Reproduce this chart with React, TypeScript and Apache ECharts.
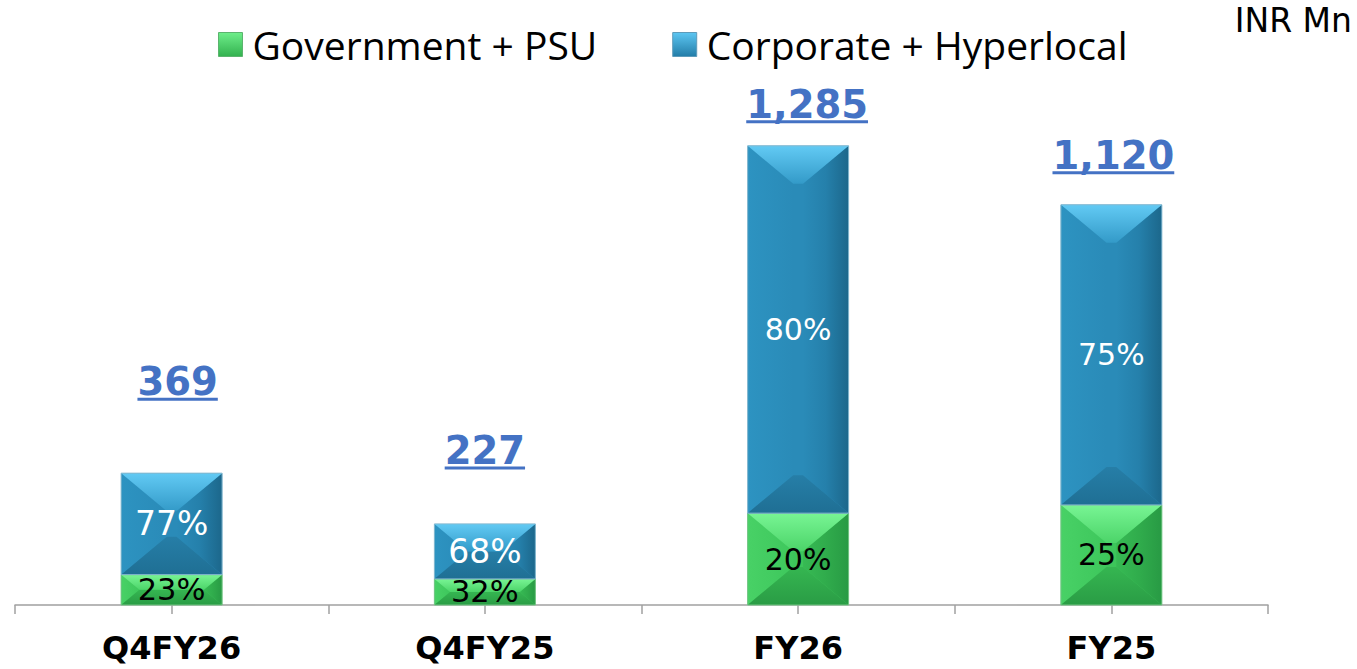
import React, { useEffect, useRef } from "react";
import * as echarts from "echarts";

// ---- data ----
const categories = ["Q4FY26", "Q4FY25", "FY26", "FY25"];
const totals = [369, 227, 1285, 1120];
const govValues = [85, 73, 257, 280];
const corpValues = [284, 154, 1028, 840];
const govShares = ["23%", "32%", "20%", "25%"];
const corpShares = ["77%", "68%", "80%", "75%"];
const seriesNames = ["Government + PSU", "Corporate + Hyperlocal"];
const unitLabel = "INR Mn";

// ---- styles ----
const totalLabelLift = [78, 60, 28, 36]; // px between bar top and total label baseline
const totalLabelShift = [6, 0, 9, 2]; // px horizontal nudge of total labels
const govFontSizes = [30.5, 30.5, 30, 30];
const corpFontSizes = [33, 33, 30, 30];
const barRatio = 0.3224;
const TOTAL_FONT = "bold 38.5px 'DejaVu Sans'";

type Pal = {
  top: [string, string];
  left: [string, string];
  center: string;
  right: [string, string, string];
  bottom: [string, string];
  stroke: string;
  text: string;
};

const govPal: Pal = {
  top: ["#78F594", "#4CD469"],
  left: ["#48D166", "#3EC75C"],
  center: "#3DC55A",
  right: ["#37BA54", "#30AC4C", "#289A44"],
  bottom: ["#35B651", "#2A9C45"],
  stroke: "#74C585",
  text: "#000000",
};
const corpPal: Pal = {
  top: ["#62CAF4", "#339AC8"],
  left: ["#2D93C1", "#2A8BB8"],
  center: "#2A8BB8",
  right: ["#2A8BB8", "#2580AB", "#1C678B"],
  bottom: ["#267EA7", "#1F6F94"],
  stroke: "#86B9D0",
  text: "#FFFFFF",
};

const lg = (stops: string[], vertical: boolean) =>
  new echarts.graphic.LinearGradient(
    0,
    0,
    vertical ? 0 : 1,
    vertical ? 1 : 0,
    stops.map((c, i) => ({ offset: stops.length === 1 ? 0 : i / (stops.length - 1), color: c }))
  );

function makeBarRenderer(pal: Pal, shares: string[], fontSizes: number[]) {
  return (params: any, api: any) => {
    const idx = api.value(0);
    const start = api.value(1);
    const end = api.value(2);
    const pB = api.coord([idx, start]);
    const pT = api.coord([idx, end]);
    const bw = api.size([1, 0])[0] * barRatio;
    const cx = pB[0];
    const x0 = cx - bw / 2;
    const x1 = cx + bw / 2;
    const yb = pB[1];
    const yt = pT[1];
    const h = yb - yt;
    const dt = Math.min(h / 2, 38);
    const e = Math.max(1, bw / 2 - dt * 1.2);
    const ml = [cx - e, yt + dt];
    const mr = [cx + e, yt + dt];
    const bl = [cx - e, yb - dt];
    const br = [cx + e, yb - dt];
    return {
      type: "group",
      children: [
        { type: "rect", shape: { x: x0, y: yt, width: bw, height: h }, style: { fill: pal.center } },
        {
          type: "polygon",
          shape: { points: [[x0, yt], ml, bl, [x0, yb]] },
          style: { fill: lg([pal.left[0], pal.left[1]], false) },
        },
        {
          type: "polygon",
          shape: { points: [[x1, yt], mr, br, [x1, yb]] },
          style: { fill: lg([pal.right[0], pal.right[1], pal.right[2]], false) },
        },
        {
          type: "polygon",
          shape: { points: [[x0, yb], [x1, yb], br, bl] },
          style: { fill: lg([pal.bottom[0], pal.bottom[1]], true) },
        },
        {
          type: "polygon",
          shape: { points: [[x0, yt], [x1, yt], mr, ml] },
          style: { fill: lg([pal.top[0], pal.top[1]], true) },
        },
        {
          type: "rect",
          shape: { x: x0, y: yt, width: bw, height: h },
          style: { fill: "none", stroke: pal.stroke, lineWidth: 1 },
        },
        {
          type: "text",
          style: {
            text: shares[params.dataIndex],
            x: cx,
            y: (yt + yb) / 2,
            align: "center",
            verticalAlign: "middle",
            fill: pal.text,
            fontSize: fontSizes[params.dataIndex],
            fontFamily: "'DejaVu Sans'",
          },
        },
      ],
    };
  };
}

let measureCtx: CanvasRenderingContext2D | null = null;
function textWidth(s: string, font: string) {
  if (!measureCtx) measureCtx = document.createElement("canvas").getContext("2d");
  if (!measureCtx) return s.length * 22;
  measureCtx.font = font;
  return measureCtx.measureText(s).width;
}

function renderTotal(params: any, api: any) {
  const idx = api.value(0);
  const val = api.value(1);
  const p = api.coord([idx, val]);
  const baseline = p[1] - totalLabelLift[idx];
  const x = p[0] + totalLabelShift[idx];
  const txt = totals[idx].toLocaleString("en-US");
  const w = textWidth(txt, TOTAL_FONT);
  return {
    type: "group",
    children: [
      {
        type: "text",
        style: {
          text: txt,
          x,
          y: baseline - 13.5,
          align: "center",
          verticalAlign: "middle",
          fill: "#4472C4",
          fontSize: 38.5,
          fontWeight: "bold",
          fontFamily: "'DejaVu Sans'",
        },
      },
      {
        type: "line",
        shape: { x1: x - w / 2, y1: baseline + 4, x2: x + w / 2, y2: baseline + 4 },
        style: { stroke: "#4472C4", lineWidth: 3 },
      },
    ],
  };
}

export default function App() {
  const ref = useRef<HTMLDivElement>(null);
  useEffect(() => {
    if (!ref.current) return;
    const chart = echarts.init(ref.current, undefined, { renderer: "svg" });
    const govData = categories.map((_, i) => [i, 0, govValues[i]]);
    const corpData = categories.map((_, i) => [i, govValues[i], govValues[i] + corpValues[i]]);
    const totalData = categories.map((_, i) => [i, totals[i]]);
    chart.setOption({
      animation: false,
      backgroundColor: "#FFFFFF",
      grid: { left: 15, right: 89, top: 69, bottom: 64 },
      legend: {
        left: 218,
        top: 25,
        padding: 0,
        itemWidth: 24,
        itemHeight: 24,
        itemGap: 75,
        selectedMode: false,
        textStyle: { fontFamily: "'Open Sans'", fontSize: 39, color: "#000000", padding: [0, 0, 0, 5] },
        data: [
          {
            name: seriesNames[0],
            icon: "rect",
            itemStyle: { color: lg(["#6EEE8A", "#33B14F"], true), borderColor: "#5BB46E", borderWidth: 1 },
          },
          {
            name: seriesNames[1],
            icon: "rect",
            itemStyle: { color: lg(["#5CC6F2", "#237DA8"], true), borderColor: "#5D9BBA", borderWidth: 1 },
          },
        ],
      },
      xAxis: [
        {
          type: "category",
          data: categories,
          boundaryGap: true,
          axisLine: { show: true, lineStyle: { color: "#A0A0A0", width: 1.5 } },
          axisTick: { show: true, length: 9, alignWithLabel: false, lineStyle: { color: "#A0A0A0", width: 1.5 } },
          axisLabel: {
            show: true,
            margin: 27,
            color: "#000000",
            fontSize: 32,
            fontWeight: "bold",
            fontFamily: "'DejaVu Sans'",
          },
        },
        {
          type: "category",
          data: categories,
          position: "bottom",
          boundaryGap: true,
          axisLine: { show: false },
          axisTick: { show: true, length: 9, alignWithLabel: true, lineStyle: { color: "#A0A0A0", width: 1.5 } },
          axisLabel: { show: false },
        },
      ],
      yAxis: { type: "value", min: 0, max: 1500, show: false, splitLine: { show: false } },
      graphic: [
        {
          type: "text",
          right: 5,
          top: 4,
          style: { text: unitLabel, fontSize: 33, fontFamily: "'DejaVu Sans'", fill: "#000000" },
        },
      ],
      series: [
        {
          name: seriesNames[0],
          type: "custom",
          xAxisIndex: 0,
          renderItem: makeBarRenderer(govPal, govShares, govFontSizes),
          encode: { x: 0, y: [1, 2] },
          itemStyle: { color: "#3DC55A" },
          data: govData,
          z: 2,
        },
        {
          name: seriesNames[1],
          type: "custom",
          xAxisIndex: 0,
          renderItem: makeBarRenderer(corpPal, corpShares, corpFontSizes),
          encode: { x: 0, y: [1, 2] },
          itemStyle: { color: "#2A8BB8" },
          data: corpData,
          z: 2,
        },
        {
          name: "Total",
          type: "custom",
          xAxisIndex: 0,
          renderItem: renderTotal,
          encode: { x: 0, y: 1 },
          data: totalData,
          z: 3,
        },
      ],
    });
    return () => chart.dispose();
  }, []);
  return (
    <div
      ref={ref}
      style={{ position: "absolute", left: 0, top: 0, width: 1357, height: 669, background: "#FFFFFF" }}
    />
  );
}
